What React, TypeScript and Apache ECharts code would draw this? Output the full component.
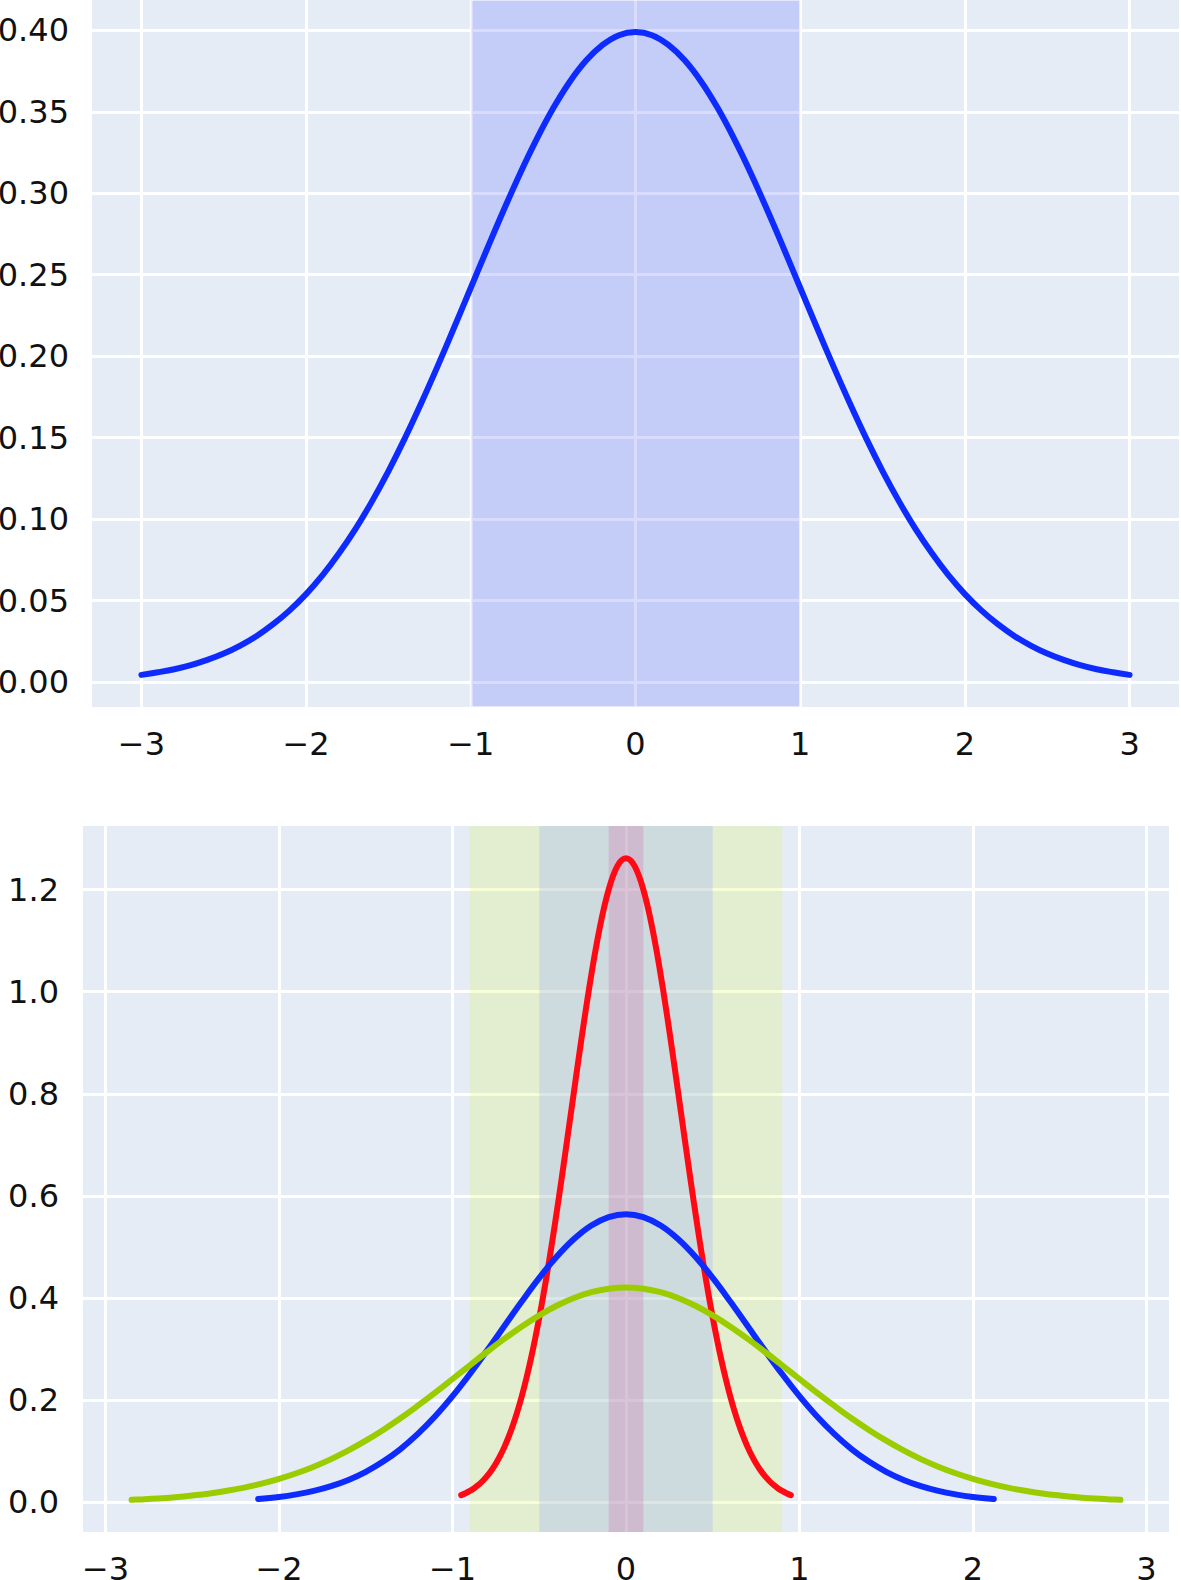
import React, { useEffect, useRef } from "react";
import * as echarts from "echarts";

// ---------- data ----------
const X_TICKS = [-3, -2, -1, 0, 1, 2, 3];
const TOP_Y_TICKS = [0, 0.05, 0.1, 0.15, 0.2, 0.25, 0.3, 0.35, 0.4];
const BOTTOM_Y_TICKS = [0, 0.2, 0.4, 0.6, 0.8, 1.0, 1.2];

// top panel: standard normal curve
const topX = [
  -3, -2.9, -2.8, -2.7, -2.6, -2.5, -2.4, -2.3, -2.2, -2.1, -2, -1.9, -1.8, -1.7, -1.6, -1.5, -1.4, -1.3, -1.2, -1.1,
  -1, -0.9, -0.8, -0.7, -0.6, -0.5, -0.4, -0.3, -0.2, -0.1, 0,
  0.1, 0.2, 0.3, 0.4, 0.5, 0.6, 0.7, 0.8, 0.9, 1, 1.1, 1.2, 1.3, 1.4, 1.5, 1.6, 1.7, 1.8, 1.9,
  2, 2.1, 2.2, 2.3, 2.4, 2.5, 2.6, 2.7, 2.8, 2.9, 3,
];
const topY = [
  0.0044, 0.006, 0.0079, 0.0104, 0.0136, 0.0175, 0.0224, 0.0283, 0.0355, 0.044, 0.054, 0.0656, 0.079, 0.094, 0.1109, 0.1295, 0.1497, 0.1714, 0.1942, 0.2179,
  0.242, 0.2661, 0.2897, 0.3123, 0.3332, 0.3521, 0.3683, 0.3814, 0.391, 0.397, 0.3989,
  0.397, 0.391, 0.3814, 0.3683, 0.3521, 0.3332, 0.3123, 0.2897, 0.2661, 0.242, 0.2179, 0.1942, 0.1714, 0.1497, 0.1295, 0.1109, 0.094, 0.079, 0.0656,
  0.054, 0.044, 0.0355, 0.0283, 0.0224, 0.0175, 0.0136, 0.0104, 0.0079, 0.006, 0.0044,
];
const topBand = [-1, 1];

// bottom panel: three curves
const redX = [
  -0.95, -0.925, -0.9, -0.875, -0.85, -0.825, -0.8, -0.775, -0.75, -0.725, -0.7, -0.675, -0.65, -0.625, -0.6, -0.575, -0.55, -0.525, -0.5,
  -0.475, -0.45, -0.425, -0.4, -0.375, -0.35, -0.325, -0.3, -0.275, -0.25, -0.225, -0.2, -0.175, -0.15, -0.125, -0.1, -0.075, -0.05, -0.025, 0,
  0.025, 0.05, 0.075, 0.1, 0.125, 0.15, 0.175, 0.2, 0.225, 0.25, 0.275, 0.3, 0.325, 0.35, 0.375, 0.4, 0.425, 0.45, 0.475,
  0.5, 0.525, 0.55, 0.575, 0.6, 0.625, 0.65, 0.675, 0.7, 0.725, 0.75, 0.775, 0.8, 0.825, 0.85, 0.875, 0.9, 0.925, 0.95,
];
const redY = [
  0.0138, 0.0175, 0.022, 0.0274, 0.034, 0.042, 0.0514, 0.0626, 0.0758, 0.0911, 0.1089, 0.1293, 0.1526, 0.1789, 0.2085, 0.2415, 0.278, 0.318, 0.3615,
  0.4083, 0.4583, 0.5113, 0.5669, 0.6246, 0.6838, 0.744, 0.8044, 0.8644, 0.923, 0.9795, 1.0329, 1.0825, 1.1274, 1.1668, 1.2001, 1.2266, 1.2459, 1.2577, 1.2616,
  1.2577, 1.2459, 1.2266, 1.2001, 1.1668, 1.1274, 1.0825, 1.0329, 0.9795, 0.923, 0.8644, 0.8044, 0.744, 0.6838, 0.6246, 0.5669, 0.5113, 0.4583, 0.4083,
  0.3615, 0.318, 0.278, 0.2415, 0.2085, 0.1789, 0.1526, 0.1293, 0.1089, 0.0911, 0.0758, 0.0626, 0.0514, 0.042, 0.034, 0.0274, 0.022, 0.0175, 0.0138,
];

const blueX = [
  -2.12, -2, -1.9, -1.8, -1.7, -1.6, -1.5, -1.4, -1.3, -1.2, -1.1, -1, -0.9, -0.8, -0.7, -0.6, -0.5, -0.4, -0.3, -0.2, -0.1, 0,
  0.1, 0.2, 0.3, 0.4, 0.5, 0.6, 0.7, 0.8, 0.9, 1, 1.1, 1.2, 1.3, 1.4, 1.5, 1.6, 1.7, 1.8, 1.9, 2, 2.12,
];
const blueY = [
  0.0063, 0.0103, 0.0153, 0.0221, 0.0314, 0.0436, 0.0595, 0.0795, 0.1041, 0.1337, 0.1682, 0.2076, 0.251, 0.2975, 0.3456, 0.3936, 0.4394, 0.4808, 0.5156, 0.5421, 0.5586, 0.5642,
  0.5586, 0.5421, 0.5156, 0.4808, 0.4394, 0.3936, 0.3456, 0.2975, 0.251, 0.2076, 0.1682, 0.1337, 0.1041, 0.0795, 0.0595, 0.0436, 0.0314, 0.0221, 0.0153, 0.0103, 0.0063,
];

const greenX = [
  -2.85, -2.8, -2.7, -2.6, -2.5, -2.4, -2.3, -2.2, -2.1, -2, -1.9, -1.8, -1.7, -1.6, -1.5, -1.4, -1.3, -1.2, -1.1, -1,
  -0.9, -0.8, -0.7, -0.6, -0.5, -0.4, -0.3, -0.2, -0.1, 0,
  0.1, 0.2, 0.3, 0.4, 0.5, 0.6, 0.7, 0.8, 0.9, 1, 1.1, 1.2, 1.3, 1.4, 1.5, 1.6, 1.7, 1.8, 1.9,
  2, 2.1, 2.2, 2.3, 2.4, 2.5, 2.6, 2.7, 2.8, 2.85,
];
const greenY = [
  0.0046, 0.0054, 0.0073, 0.0098, 0.0131, 0.0171, 0.0223, 0.0286, 0.0363, 0.0456, 0.0566, 0.0695, 0.0844, 0.1014, 0.1205, 0.1416, 0.1644, 0.189, 0.2147, 0.2413,
  0.2681, 0.2947, 0.3203, 0.3443, 0.366, 0.3848, 0.4, 0.4113, 0.4182, 0.4205,
  0.4182, 0.4113, 0.4, 0.3848, 0.366, 0.3443, 0.3203, 0.2947, 0.2681, 0.2413, 0.2147, 0.189, 0.1644, 0.1416, 0.1205, 0.1014, 0.0844, 0.0695, 0.0566,
  0.0456, 0.0363, 0.0286, 0.0223, 0.0171, 0.0131, 0.0098, 0.0073, 0.0054, 0.0046,
];

const greenBand = [-0.9, 0.9];
const blueBand = [-0.5, 0.5];
const redBand = [-0.1, 0.1];

// ---------- styling ----------
const BG = "#E5ECF6";
const FONT = "DejaVu Sans";
const BLUE = "#0d2bff";
const RED = "#ff0a14";
const GREEN = "#9acc00";

const pairs = (xs: number[], ys: number[]) => xs.map((x, i) => [x, ys[i]]);
const minus = (v: number | string) => String(v).replace("-", "\u2212");

function xAxisOpt(gridIndex: number, min: number, max: number) {
  return {
    type: "value",
    gridIndex,
    min,
    max,
    axisLine: { show: false },
    axisTick: { show: false, customValues: X_TICKS },
    splitLine: { show: true, lineStyle: { color: "#ffffff", width: 3 } },
    axisLabel: {
      customValues: X_TICKS,
      formatter: (v: number) => minus(v),
      fontFamily: FONT,
      fontSize: 32,
      color: "#111",
      margin: 21,
    },
  };
}

function yAxisOpt(gridIndex: number, min: number, max: number, ticks: number[], digits: number, margin: number) {
  return {
    type: "value",
    gridIndex,
    min,
    max,
    axisLine: { show: false },
    axisTick: { show: false, customValues: ticks },
    splitLine: { show: true, lineStyle: { color: "#ffffff", width: 3 } },
    axisLabel: {
      customValues: ticks,
      formatter: (v: number) => v.toFixed(digits),
      fontFamily: FONT,
      fontSize: 32,
      color: "#111",
      margin,
      padding: [8, 0, 0, 0],
    },
  };
}

function lineSeries(name: string, xAxisIndex: number, data: number[][], color: string, extra: any = {}) {
  return {
    name,
    type: "line",
    xAxisIndex,
    yAxisIndex: xAxisIndex,
    data,
    smooth: 0.4,
    showSymbol: false,
    symbol: "none",
    lineStyle: { color, width: 6, cap: "round", join: "round" },
    z: 3,
    ...extra,
  };
}

export default function App() {
  const ref = useRef<HTMLDivElement>(null);

  useEffect(() => {
    if (!ref.current) return;
    const chart = echarts.init(ref.current, undefined, { renderer: "svg" });
    chart.setOption({
      animation: false,
      backgroundColor: "#ffffff",
      grid: [
        {
          left: 92, top: 0, width: 1087, height: 707, show: true, backgroundColor: BG, borderWidth: 0,
          containLabel: false, outerBoundsMode: "none",
        },
        {
          left: 83, top: 826, width: 1086, height: 706, show: true, backgroundColor: BG, borderWidth: 0,
          containLabel: false, outerBoundsMode: "none",
        },
      ],
      xAxis: [xAxisOpt(0, -3.3, 3.3), xAxisOpt(1, -3.13, 3.13)],
      yAxis: [
        yAxisOpt(0, -0.0153, 0.4186, TOP_Y_TICKS, 2, 23),
        yAxisOpt(1, -0.0584, 1.3246, BOTTOM_Y_TICKS, 1, 24),
      ],
      series: [
        lineSeries("N(0,1)", 0, pairs(topX, topY), BLUE, {
          markArea: {
            silent: true,
            itemStyle: { color: "rgba(80,90,255,0.22)", borderColor: "rgba(255,255,255,0.55)", borderWidth: 2 },
            data: [[{ xAxis: topBand[0] }, { xAxis: topBand[1] }]],
          },
        }),
        lineSeries("var 0.1", 1, pairs(redX, redY), RED, {
          markArea: {
            silent: true,
            data: [
              [{ xAxis: greenBand[0], itemStyle: { color: "rgba(220,252,60,0.2)" } }, { xAxis: greenBand[1] }],
              [{ xAxis: blueBand[0], itemStyle: { color: "rgba(160,176,255,0.3)" } }, { xAxis: blueBand[1] }],
              [{ xAxis: redBand[0], itemStyle: { color: "rgba(210,92,168,0.25)" } }, { xAxis: redBand[1] }],
            ],
          },
        }),
        lineSeries("var 0.5", 1, pairs(blueX, blueY), BLUE),
        lineSeries("var 0.9", 1, pairs(greenX, greenY), GREEN),
      ],
    });
    return () => chart.dispose();
  }, []);

  return (
    <div
      ref={ref}
      style={{ position: "fixed", left: 0, top: 0, width: 1181, height: 1580, background: "#fff" }}
    />
  );
}
